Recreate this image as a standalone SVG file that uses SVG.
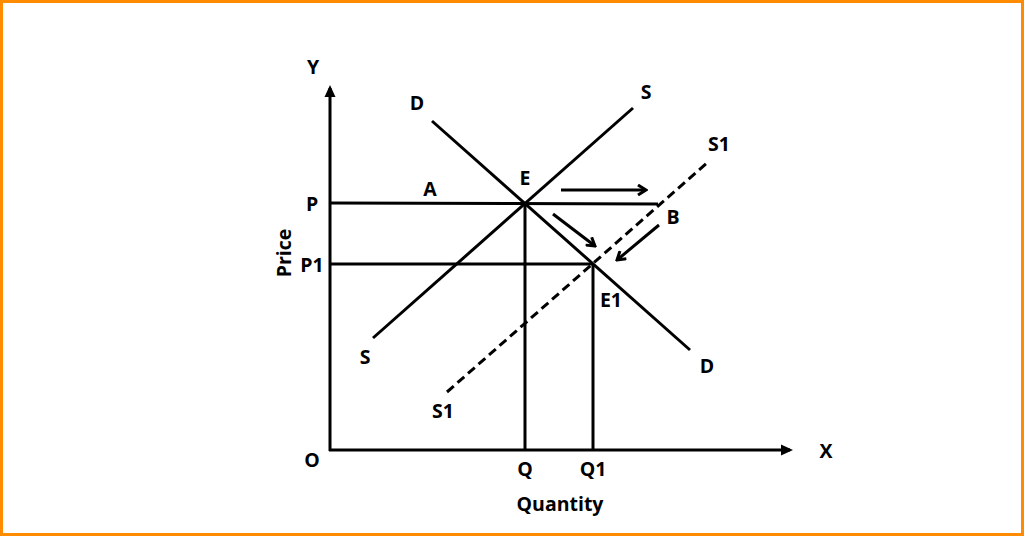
<svg xmlns="http://www.w3.org/2000/svg" width="1024" height="536" viewBox="0 0 1024 536">
<style>
.l{stroke:#000;stroke-width:3;fill:none;stroke-linecap:butt}
.t{font-family:"Open Sans","DejaVu Sans",sans-serif;font-weight:bold;font-size:19.5px;fill:#000;text-anchor:middle;dominant-baseline:central}
</style>
<defs>
<marker id="ah" markerWidth="12" markerHeight="12" refX="9" refY="6" orient="auto" markerUnits="userSpaceOnUse">
<path d="M0,0.5 L12,6 L0,11.5 Z" fill="#000"/>
</marker>
<marker id="oa" markerWidth="12" markerHeight="12" refX="10" refY="6" orient="auto" markerUnits="userSpaceOnUse">
<path d="M2,1 L10,6 L2,11" fill="none" stroke="#000" stroke-width="3"/>
</marker>
</defs>
<rect x="1.5" y="1.5" width="1021" height="533" fill="#fff" stroke="#FF8C00" stroke-width="3"/>
<g id="connectors">
<line class="l" x1="330" y1="451" x2="330" y2="88" marker-end="url(#ah)"/>
<line class="l" x1="329" y1="450" x2="790" y2="450" marker-end="url(#ah)"/>
<line class="l" x1="330" y1="203" x2="658" y2="204"/>
<line class="l" x1="330" y1="264" x2="593" y2="264"/>
<line class="l" x1="525" y1="203" x2="525" y2="450"/>
<line class="l" x1="593" y1="264" x2="593" y2="450"/>
<line class="l" x1="432" y1="121" x2="690" y2="350"/>
<line class="l" x1="373" y1="338" x2="633" y2="108"/>
<line class="l" x1="447" y1="392" x2="707" y2="163" stroke-dasharray="9,5"/>
<line class="l" x1="561" y1="190" x2="646" y2="190" marker-end="url(#oa)"/>
<line class="l" x1="553" y1="214" x2="595" y2="246" marker-end="url(#oa)"/>
<line class="l" x1="659" y1="225" x2="617" y2="260" marker-end="url(#oa)"/>
</g>
<g id="labels">
<text class="t" x="313" y="66">Y</text>
<text class="t" x="417" y="102">D</text>
<text class="t" x="646" y="91">S</text>
<text class="t" x="719" y="143">S1</text>
<text class="t" x="525" y="177">E</text>
<text class="t" x="430" y="188">A</text>
<text class="t" x="312" y="203">P</text>
<text class="t" x="673" y="216">B</text>
<text class="t" x="312" y="264">P1</text>
<text class="t" x="611" y="299">E1</text>
<text class="t" x="365" y="356">S</text>
<text class="t" x="707" y="365">D</text>
<text class="t" x="443" y="410">S1</text>
<text class="t" x="312" y="459">O</text>
<text class="t" x="525" y="468">Q</text>
<text class="t" x="593" y="468">Q1</text>
<text class="t" x="560" y="503">Quantity</text>
<text class="t" x="826" y="450">X</text>
<text class="t" x="283" y="253" transform="rotate(-90 283 253)">Price</text>
</g>
</svg>
